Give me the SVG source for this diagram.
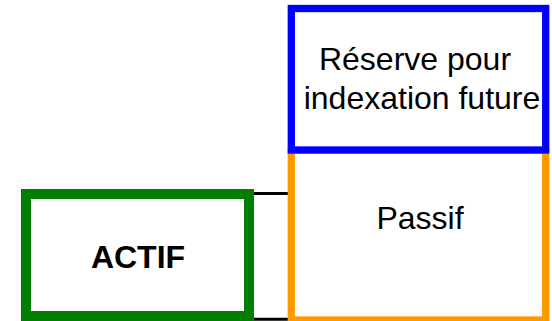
<svg xmlns="http://www.w3.org/2000/svg" width="552" height="321" viewBox="0 0 552 321">
  <style>
    .box { fill: #ffffff; }
    .label { font-family: "Liberation Sans", Arial, sans-serif; font-size: 32px; fill: #000000; }
    .bold { font-weight: bold; }
    .link { stroke: #000000; stroke-width: 3; fill: none; }
  </style>
  <rect width="552" height="321" fill="#ffffff"/>
  <g id="connectors">
    <line class="link" x1="254" y1="193.5" x2="289" y2="193.5"/>
    <line class="link" x1="254" y1="319.2" x2="289" y2="319.2"/>
  </g>
  <g id="passif">
    <rect class="box" x="291.3" y="150" width="254.4" height="170" stroke="#ff9900" stroke-width="7.3"/>
    <text class="label" x="420" y="229.3" text-anchor="middle">Passif</text>
  </g>
  <g id="reserve">
    <rect class="box" x="291.3" y="8.5" width="254.4" height="141.5" stroke="#0000ff" stroke-width="7.3"/>
    <text class="label" x="415" y="70" text-anchor="middle">Réserve pour</text>
    <text class="label" x="422" y="109.3" text-anchor="middle">indexation future</text>
  </g>
  <g id="actif">
    <rect class="box" x="26" y="194" width="223" height="122" stroke="#008000" stroke-width="10"/>
    <text class="label bold" x="138" y="267.7" text-anchor="middle">ACTIF</text>
  </g>
</svg>
